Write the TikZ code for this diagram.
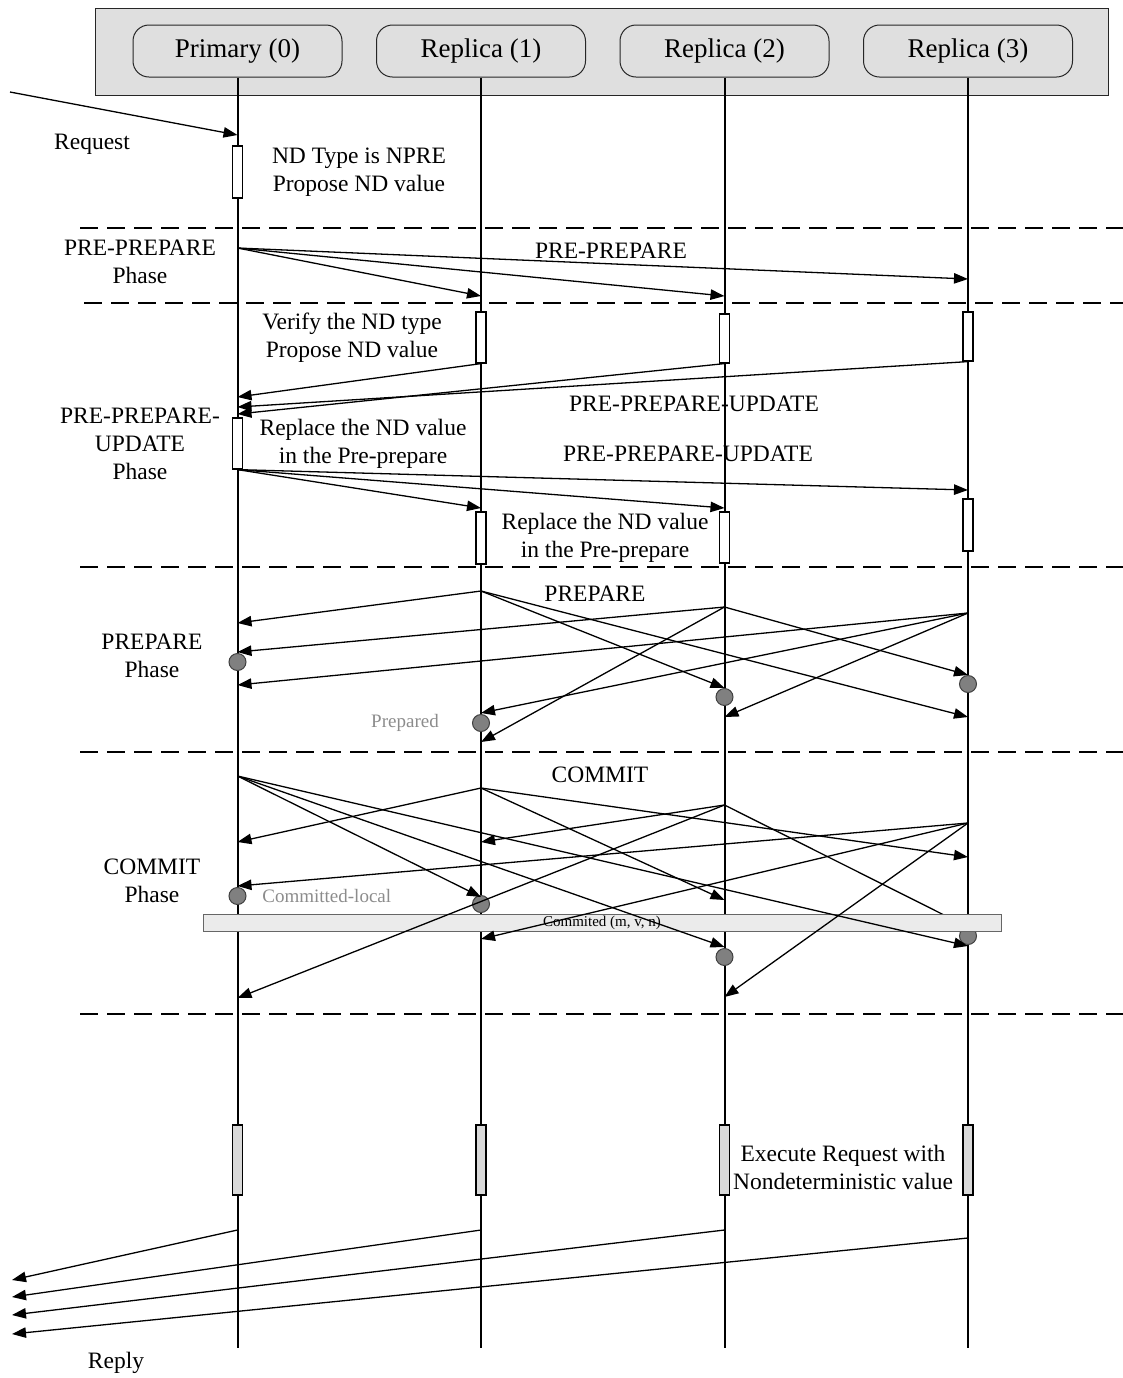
\documentclass[tikz,border=0pt]{standalone}
\usepackage{fontspec}
\setmainfont{Liberation Serif}
\usetikzlibrary{arrows.meta, positioning}
\definecolor{hdrGray}{HTML}{DFDFDF}
\definecolor{barGray}{HTML}{EBEBEB}
\definecolor{execGray}{HTML}{D9D9D9}
\definecolor{dotGray}{HTML}{808080}
\definecolor{textMuted}{HTML}{8C8C8C}
\tikzset{
  boxLane/.style={rectangle, rounded corners=8pt, draw=black!85, fill=hdrGray,
                  minimum width=104.5pt, minimum height=26pt, line width=0.5pt,
                  font=\fontsize{13.5}{16}\selectfont},
  boxAct/.style={rectangle, draw=black, fill=white, minimum width=5pt,
                 inner sep=0pt, line width=0.6pt},
  boxExec/.style={boxAct, fill=execGray},
  arrowM/.style={-{Triangle[length=7pt, width=5.2pt]}, line width=0.65pt},
  lineLife/.style={line width=1pt},
  linePhase/.style={line width=1.25pt, dash pattern=on 9pt off 4.5pt},
  dotS/.style={circle, draw=black!75, fill=dotGray, minimum size=8.5pt,
               inner sep=0pt, line width=0.5pt},
  lbl/.style={align=center, inner sep=0pt, font=\fontsize{11.75}{14}\selectfont},
  lblS/.style={inner sep=0pt, text=textMuted, font=\fontsize{9.5}{11}\selectfont},
}
\begin{document}
\begin{tikzpicture}[x=0.5pt, y=-0.5pt]
  \useasboundingbox (0,0) rectangle (1123,1378);
  % header with the four parties
  \node[draw=black!85, fill=hdrGray, minimum width=506.5pt, minimum height=43.5pt,
        inner sep=0pt, line width=0.5pt] (hdr) at (601.5,51.5) {};
  \node[boxLane] (p0) at (237.5,51) {Primary (0)};
  \node[boxLane, right=16.75pt of p0] (r1) {Replica (1)};
  \node[boxLane, right=16.75pt of r1] (r2) {Replica (2)};
  \node[boxLane, right=16.75pt of r2] (r3) {Replica (3)};
  \foreach \n in {p0,r1,r2,r3}
    \draw[lineLife] (\n.south) -- (\n |- 0,1348);
  % phase separators
  \foreach \y/\x in {228/80, 303/84, 567/80, 752/80, 1014/80}
    \draw[linePhase] (\x,\y) -- (1123,\y);

  % request
  \coordinate (cli) at (10,92);
  \draw[arrowM] (cli) -- (p0 |- 0,135);
  \node[lbl] (lreq) at (92,144) {Request};
  \node[boxAct, minimum height=26pt] (a0) at (p0 |- 0,172) {};
  \node[lbl] (lnd) at (359,172) {ND Type is NPRE\\Propose ND value};

  % pre-prepare
  \node[lbl] (lpp) at (140,262) {PRE-PREPARE\\Phase};
  \node[lbl] (mpp) at (611,251) {PRE-PREPARE};
  \foreach \t/\y in {r1/296, r2/296, r3/279}
    \draw[arrowM] (p0 |- 0,248) -- (\t |- 0,\y);

  % pre-prepare-update
  \node[boxAct, minimum height=25.5pt] (a1) at (r1 |- 0,337.5) {};
  \node[boxAct, minimum height=24.5pt] (a2) at (r2 |- 0,338.5) {};
  \node[boxAct, minimum height=24.5pt] (a3) at (r3 |- 0,336.5) {};
  \node[lbl] (lver) at (352,338) {Verify the ND type\\Propose ND value};
  \draw[arrowM] (a1.south) -- (p0 |- 0,397);
  \draw[arrowM] (a3.south) -- (p0 |- 0,407);
  \draw[arrowM] (a2.south) -- (p0 |- 0,414);
  \node[boxAct, minimum height=25.5pt] (u0) at (p0 |- 0,443.5) {};
  \node[lbl] (lppu) at (140,444) {PRE-PREPARE-\\UPDATE\\Phase};
  \node[lbl] (lrep) at (363,444) {Replace the ND value\\in the Pre-prepare};
  \node[lbl] (mppu1) at (694,404) {PRE-PREPARE-UPDATE};
  \node[lbl] (mppu2) at (688,454) {PRE-PREPARE-UPDATE};
  \foreach \t/\y in {r1/508, r2/508, r3/490}
    \draw[arrowM] (u0.south) -- (\t |- 0,\y);
  \node[boxAct, minimum height=26pt] (u1) at (r1 |- 0,538) {};
  \node[boxAct, minimum height=25.5pt] (u2) at (r2 |- 0,537.5) {};
  \node[boxAct, minimum height=26pt] (u3) at (r3 |- 0,525) {};
  \node[lbl] (lrep2) at (605,538) {Replace the ND value\\in the Pre-prepare};

  % prepare
  \node[lbl] (lpr) at (152,656) {PREPARE\\Phase};
  \node[lbl] (mpr) at (595,594) {PREPARE};
  \node[dotS] (pd0) at (p0 |- 0,662) {};
  \node[dotS] (pd1) at (r1 |- 0,723) {};
  \node[dotS] (pd2) at (r2 |- 0,697) {};
  \node[dotS] (pd3) at (r3 |- 0,684) {};
  \node[lblS] (lprd) at (405,723) {Prepared};
  \foreach \s/\ys/\t/\yt in {r1/591/p0/623, r1/591/r2/688, r1/591/r3/717,
                             r2/607/p0/652, r2/607/r1/742, r2/607/r3/675,
                             r3/613/p0/685, r3/613/r1/713, r3/613/r2/717}
    \draw[arrowM] (\s |- 0,\ys) -- (\t |- 0,\yt);

  % commit
  \node[lbl] (lcm) at (152,881) {COMMIT\\Phase};
  \node[lbl] (mcm) at (600,775) {COMMIT};
  \node[dotS] (cd3) at (r3 |- 0,936) {};
  \draw[arrowM] (r2 |- 0,805) -- (r3 |- 0,927);
  \node[draw=black!60, fill=barGray, minimum width=399pt, minimum height=8.5pt,
        inner sep=0pt, line width=0.5pt, font=\fontsize{7.5}{9}\selectfont]
        (bar) at (602,922.5) {Commited (m, v, n)};
  \node[dotS] (cd0) at (p0 |- 0,896) {};
  \node[dotS] (cd1) at (r1 |- 0,904) {};
  \node[dotS] (cd2) at (r2 |- 0,957) {};
  \node[lblS, anchor=west] (lcl) at (262,896) {Committed-local};
  \foreach \s/\ys/\t/\yt in {p0/776/r1/897, p0/776/r2/947, p0/776/r3/946,
                             r1/788/p0/842, r1/788/r2/900, r1/788/r3/857,
                             r2/805/p0/998, r2/805/r1/842,
                             r3/823/p0/886, r3/823/r1/939, r3/823/r2/997}
    \draw[arrowM] (\s |- 0,\ys) -- (\t |- 0,\yt);

  % execution and reply
  \node[boxExec, minimum height=35pt] (e0) at (p0 |- 0,1160) {};
  \node[boxExec, minimum height=35pt] (e1) at (r1 |- 0,1160) {};
  \node[boxExec, minimum height=35pt] (e2) at (r2 |- 0,1160) {};
  \node[boxExec, minimum height=35pt] (e3) at (r3 |- 0,1160) {};
  \node[lbl] (lexe) at (843,1167) {Execute Request with\\Nondeterministic value};
  \coordinate (out0) at (12,1280);
  \coordinate (out1) at (12,1297);
  \coordinate (out2) at (12,1315);
  \coordinate (out3) at (12,1334);
  \draw[arrowM] (p0 |- 0,1230) -- (out0);
  \draw[arrowM] (r1 |- 0,1230) -- (out1);
  \draw[arrowM] (r2 |- 0,1230) -- (out2);
  \draw[arrowM] (r3 |- 0,1238) -- (out3);
  \node[lbl] (lrpl) at (116,1363) {Reply};
\end{tikzpicture}
\end{document}
